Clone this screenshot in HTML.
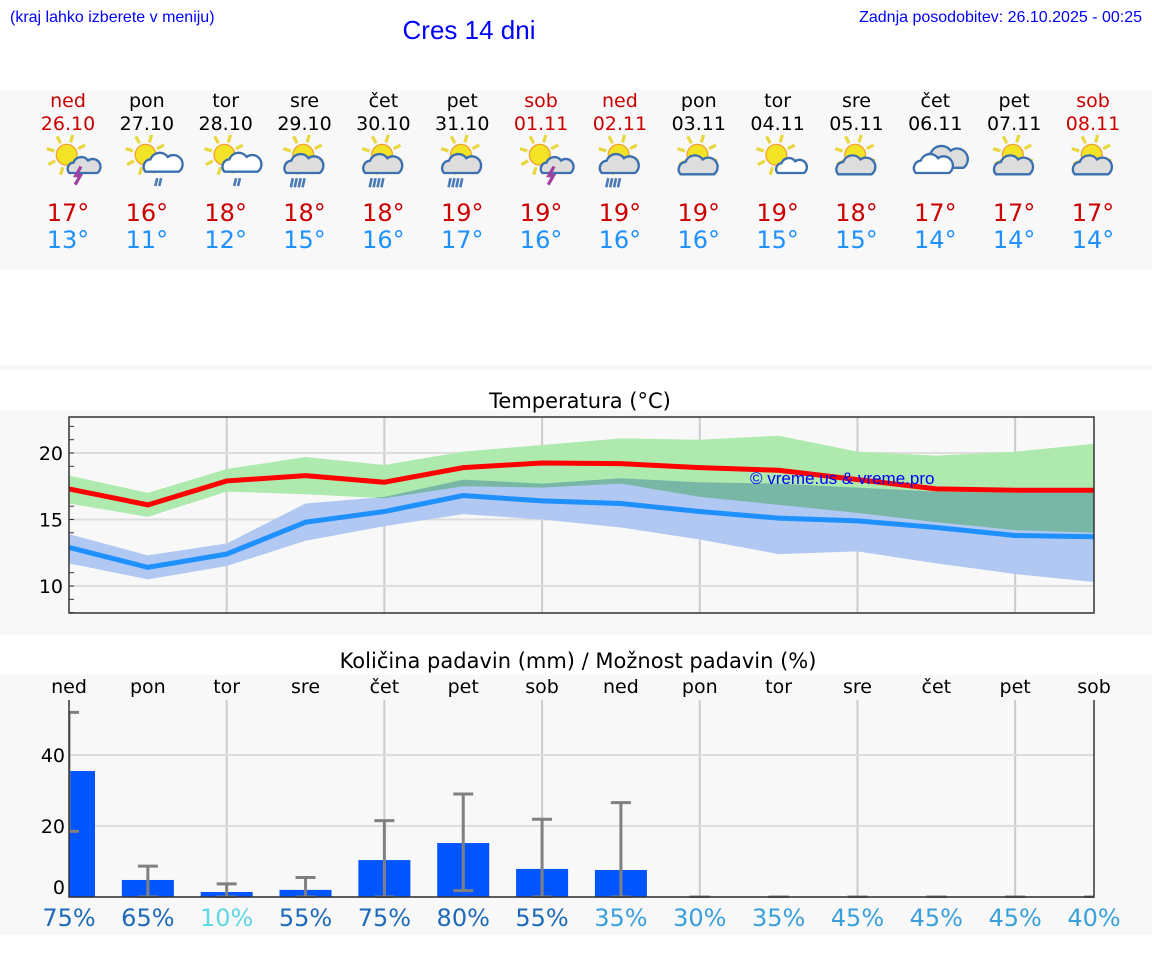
<!DOCTYPE html>
<html><head><meta charset="utf-8">
<style>
body{margin:0;background:#fff;width:1152px;height:975px;overflow:hidden;font-family:"DejaVu Sans","Liberation Sans",sans-serif}
svg{display:block}
</style></head>
<body>
<svg id="s" width="1152" height="975" xmlns="http://www.w3.org/2000/svg">
<rect x="0" y="90" width="1152" height="180" fill="#f8f8f8"/>
<rect x="0" y="365" width="1152" height="5" fill="#f8f8f8"/>
<rect x="0" y="410" width="1152" height="225" fill="#f8f8f8"/>
<rect x="0" y="675" width="1152" height="260" fill="#f8f8f8"/>
<text x="10" y="22" font-family="Liberation Sans, sans-serif" font-size="16" fill="#0000ff">(kraj lahko izberete v meniju)</text>
<text x="469" y="39" text-anchor="middle" font-family="Liberation Sans, sans-serif" font-size="26" fill="#0000ff">Cres 14 dni</text>
<text x="1142" y="22" text-anchor="end" font-family="Liberation Sans, sans-serif" font-size="16" fill="#0000ff">Zadnja posodobitev: 26.10.2025 - 00:25</text>
<text x="580" y="408" text-anchor="middle" font-size="21" fill="#000">Temperatura (°C)</text>
<text x="578" y="668" text-anchor="middle" font-size="21" fill="#000">Količina padavin (mm) / Možnost padavin (%)</text>
<g id="g"></g>
</svg>
<script>
const days=["ned","pon","tor","sre","čet","pet","sob","ned","pon","tor","sre","čet","pet","sob"];
const dates=["26.10","27.10","28.10","29.10","30.10","31.10","01.11","02.11","03.11","04.11","05.11","06.11","07.11","08.11"];
const weekend=[1,0,0,0,0,0,1,1,0,0,0,0,0,1];
const icons=["storm","rain","rain","crain","crain","crain","storm","crain","cloudsun","sunc","cloudsun","cloud","cloudsun","cloudsun"];
const maxT=[17,16,18,18,18,19,19,19,19,19,18,17,17,17];
const minT=[13,11,12,15,16,17,16,16,16,15,15,14,14,14];
const redLine=[17.3,16.1,17.9,18.3,17.8,18.9,19.25,19.2,18.9,18.7,18.0,17.3,17.2,17.2];
const greenHi=[18.3,17.0,18.8,19.7,19.1,20.1,20.6,21.1,21.0,21.3,20.1,19.8,20.1,20.7];
const greenLo=[16.2,15.2,17.1,16.9,16.6,17.5,17.4,17.7,16.7,16.1,15.5,14.8,14.2,14.0];
const blueLine=[12.9,11.4,12.4,14.8,15.6,16.8,16.4,16.2,15.6,15.1,14.9,14.4,13.8,13.7];
const blueHi=[13.9,12.3,13.2,16.2,16.7,18.0,17.7,18.1,17.8,17.7,17.4,17.1,17.0,17.1];
const blueLo=[11.7,10.5,11.5,13.4,14.5,15.4,15.0,14.4,13.5,12.4,12.6,11.7,10.9,10.3];
const tTicks=[10,15,20];
const precip=[35.5,4.8,1.4,2.0,10.4,15.2,7.9,7.6,0,0,0,0,0,0];
const errLo=[18.5,0,0,0,0,1.8,0,0,0,0,0,0,0,0];
const errHi=[52,8.7,3.7,5.5,21.5,29,21.9,26.6,0,0,0,0,0,0];
const pTicks=[0,20,40];
const chance=[75,65,10,55,75,80,55,35,30,35,45,45,45,40];

const NS="http://www.w3.org/2000/svg",G=document.getElementById("g");
function el(t,a,p){const e=document.createElementNS(NS,t);for(const k in a)e.setAttribute(k,a[k]);(p||G).appendChild(e);return e;}
function txt(x,y,s,a){const e=el("text",Object.assign({x:x,y:y,"text-anchor":"middle"},a));e.textContent=s;return e;}
const X=i=>69+i*(1094-69)/13;
const tY=v=>453-(v-20)*13.3;
const pY=v=>897-v*3.55;

days.forEach((d,i)=>{
 const c=weekend[i]?"#cc0000":"#000";
 const cx=X(i)-1;
 let t=txt(cx,107,d,{"font-size":19,fill:c});
 
 
 t=txt(cx,130,dates[i],{"font-size":19,fill:c});
 
 
 const ig=el("g",{transform:"translate("+(cx-26)+",134) scale(1.3)"});
 
 
 drawIcon(ig,icons[i]);
 t=txt(cx,221,maxT[i]+"°",{"font-size":24,fill:"#cc0000"});
 
 
 t=txt(cx,248,minT[i]+"°",{"font-size":24,fill:"#1e90ff"});
 
 
});
function sun(g,x,y,r){
 for(let k=0;k<8;k++){const a=k*Math.PI/4+0.3;el("line",{x1:x+Math.cos(a)*(r+2),y1:y+Math.sin(a)*(r+2),x2:x+Math.cos(a)*(r+8),y2:y+Math.sin(a)*(r+8),stroke:"#e8d840","stroke-width":2.5},g);}
 el("circle",{cx:x,cy:y,r:r,fill:"#f2e326",stroke:"#f0a030","stroke-width":1},g);
}
function cloud(g,x,y,s,fill){
 el("path",{d:`M${x} ${y} a${6*s} ${6*s} 0 0 1 ${4*s} ${-10*s} a${8*s} ${8*s} 0 0 1 ${14*s} ${-2*s} a${6*s} ${6*s} 0 0 1 ${9*s} ${12*s} z`,fill:fill,stroke:"#3b6fb0","stroke-width":1.8},g);
}
function drawIcon(g,type){
 if(type==="cloud"){cloud(g,12,26,1.1,"#ddd");cloud(g,5,30,0.95,"#fff");return;}
 sun(g,19,16,8);
 if(type==="storm"){cloud(g,21,30,0.8,"#ddd");el("path",{d:"M30 25 l-4 7 h3.5 l-4 7",stroke:"#a040a0","stroke-width":2.5,fill:"none"},g);}
 else if(type==="rain"){cloud(g,19,29,0.95,"#fff");el("path",{d:"M28 34 l-1.5 6 M31 34 l-1.5 6",stroke:"#4a7ab8","stroke-width":2},g);}
 else if(type==="crain"){cloud(g,6,30,0.95,"#ddd");el("path",{d:"M11 34 l-1.5 7 M14 34 l-1.5 7 M17 34 l-1.5 7 M20 34 l-1.5 7",stroke:"#4a7ab8","stroke-width":2},g);}
 else if(type==="cloudsun"){cloud(g,6,31,0.95,"#ddd");}
 else if(type==="sunc"){cloud(g,20,30,0.75,"#fff");}
}

const tc=el("g",{});


[2,4,6,8,10,12].forEach(i=>el("line",{x1:X(i),x2:X(i),y1:417,y2:613,stroke:"#ccc","stroke-width":2},tc));
tTicks.forEach(v=>{
 el("line",{x1:69,x2:1094,y1:tY(v),y2:tY(v),stroke:"#ddd","stroke-width":2},tc);
 const t=txt(63,tY(v)+7,String(v),{"font-size":19,"text-anchor":"end",fill:"#000"});
 
 
});
for(let v=8;v<=22;v++)el("line",{x1:69,x2:74,y1:tY(v),y2:tY(v),stroke:"#333","stroke-width":1},tc);
const bands=el("g",{style:"isolation:isolate"},tc);
function band(hi,lo,fill,name){
 let d="M"+hi.map((v,i)=>X(i)+" "+tY(v)).join(" L")+" L"+lo.map((v,i)=>X(i)+" "+tY(v)).reverse().join(" L")+"Z";
 const p=el("path",{d:d,fill:fill,style:"mix-blend-mode:multiply"},bands);
 
 
}
band(greenHi,greenLo,"#aeeaae","max-temp-range");
band(blueHi,blueLo,"#b0c8f2","min-temp-range");
function line(arr,c,name){
 const p=el("polyline",{points:arr.map((v,i)=>X(i)+","+tY(v)).join(" "),fill:"none",stroke:c,"stroke-width":5},tc);
 
 
}
line(redLine,"#ff0000","max-temp-line");
line(blueLine,"#1e90ff","min-temp-line");
el("rect",{x:69,y:417,width:1025,height:196,fill:"none",stroke:"#333","stroke-width":1.5},tc);
let wm=txt(750,484,"© vreme.us & vreme.pro",{"font-size":17,fill:"#0000ff","text-anchor":"start","font-family":"Liberation Sans, sans-serif"});



const pc=el("g",{});


days.forEach((d,i)=>{
 const t=txt(X(i),693,d,{"font-size":19,fill:"#000"});
 
 
});
[2,4,6,8,10,12].forEach(i=>el("line",{x1:X(i),x2:X(i),y1:700,y2:897,stroke:"#ccc","stroke-width":2},pc));
pTicks.forEach(v=>{
 el("line",{x1:69,x2:1094,y1:pY(v),y2:pY(v),stroke:"#ddd","stroke-width":2},pc);
 const t=txt(65,pY(v)+7-(v===0?10:0),String(v),{"font-size":19,"text-anchor":"end",fill:"#000"});
 
 
});
const cl=el("clipPath",{id:"pclip"},pc);el("rect",{x:69,y:690,width:1025,height:208},cl);
const bars=el("g",{"clip-path":"url(#pclip)"},pc);
precip.forEach((v,i)=>{
 if(v>0){const r=el("rect",{x:X(i)-26,y:pY(v),width:52,height:pY(0)-pY(v),fill:"#0055ff"},bars);
 
 }
 const e=el("g",{},bars);
 
 
 el("line",{x1:X(i),x2:X(i),y1:pY(errLo[i]),y2:pY(errHi[i]),stroke:"#808080","stroke-width":3},e);
 el("line",{x1:X(i)-10,x2:X(i)+10,y1:pY(errLo[i]),y2:pY(errLo[i]),stroke:"#808080","stroke-width":3},e);
 el("line",{x1:X(i)-10,x2:X(i)+10,y1:pY(errHi[i]),y2:pY(errHi[i]),stroke:"#808080","stroke-width":3},e);
});
el("polyline",{points:"69,700 69,897 1094,897 1094,700",fill:"none",stroke:"#333","stroke-width":1.5},pc);
chance.forEach((v,i)=>{
 const c=v<=20?"#5fd6e6":(v<50?"#3aa0dc":"#1e6ab8");
 const t=txt(X(i),926,v+"%",{"font-size":24,fill:c});
 
 
});
</script>
</body></html>
